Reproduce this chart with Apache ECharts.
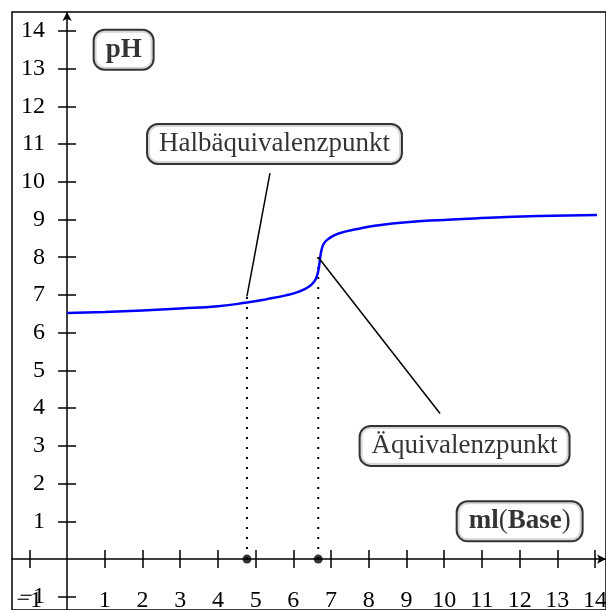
<!DOCTYPE html>
<html>
<head>
<meta charset="utf-8">
<script src="https://cdn.jsdelivr.net/npm/echarts@6/dist/echarts.min.js"></script>
<style>
    html, body { margin: 0; padding: 0; background: #fff; }
    #chart { width: 606px; height: 610px; }
</style>
</head>
<body>
<div id="chart"></div>
<script>
// titration curve
const volumes = [0, 1, 2, 3, 4, 4.77, 5.3, 5.8, 6.15, 6.4, 6.55, 6.63, 6.68, 6.71, 6.75, 6.82, 6.95, 7.2, 7.7, 8.2, 9.0, 10.0, 10.8, 12.5, 14.05];
const phValues = [6.52, 6.55, 6.59, 6.64, 6.70, 6.80, 6.89, 6.99, 7.09, 7.21, 7.35, 7.52, 7.75, 7.98, 8.20, 8.38, 8.50, 8.63, 8.75, 8.84, 8.93, 8.99, 9.03, 9.09, 9.12];

// ticks / labels
const xTickValues = [-1, 1, 2, 3, 4, 5, 6, 7, 8, 9, 10, 11, 12, 13, 14];
const yTickValues = [-1, 1, 2, 3, 4, 5, 6, 7, 8, 9, 10, 11, 12, 13, 14];

// half equivalence and equivalence point (ml)
const markerVolumes = [4.77, 6.66];
const guideTops = [6.96, 8.0];

// pointer lines: label end -> curve end
const pointerFrom = [[5.38, 10.23], [9.89, 3.86]];
const pointerTo = [[4.77, 6.96], [6.66, 8.0]];

// boxed texts
const boxTexts = ['{b|pH}', 'Halbäquivalenzpunkt', 'Äquivalenzpunkt', '{b|ml}({b|Base})'];
const boxAnchors = [[1.5, 13.5], [5.5, 11.0], [10.54, 3.0], [12.0, 1.0]];

const chartDom = document.getElementById('chart');
const myChart = echarts.init(chartDom);

const font = 'Liberation Serif';
const fmt = v => (v < 0 ? '\u2212' + Math.abs(v) : String(v));

// grid
let grid = {
    left: 12,
    top: 12,
    right: 0,
    bottom: 0,
    show: true,
    borderColor: '#000',
    borderWidth: 1.5,
    outerBoundsMode: 'none'
};

let axisLineStyle = { color: '#000', width: 1.5 };

// xAxis: one carries labels + ticks downwards, second one ticks upwards
let xAxis = [{
    type: 'value',
    min: -1.46,
    max: 14.29,
    position: 'bottom',
    axisLine: {
        onZero: true,
        onZeroAxisIndex: 0,
        symbol: ['none', 'arrow'],
        symbolSize: [7, 9],
        lineStyle: axisLineStyle
    },
    axisTick: { customValues: xTickValues, length: 9, lineStyle: axisLineStyle },
    axisLabel: {
        customValues: xTickValues,
        formatter: fmt,
        margin: -21,
        color: '#000',
        fontFamily: font,
        fontSize: 24
    },
    splitLine: { show: false }
}, {
    type: 'value',
    min: -1.46,
    max: 14.29,
    position: 'top',
    axisLine: { show: false, onZero: true, onZeroAxisIndex: 0 },
    axisTick: { customValues: xTickValues, length: 9, lineStyle: axisLineStyle },
    axisLabel: { show: false },
    splitLine: { show: false }
}];

// yAxis
let yAxis = [{
    type: 'value',
    min: -1.35,
    max: 14.5,
    position: 'left',
    axisLine: {
        onZero: true,
        onZeroAxisIndex: 0,
        symbol: ['none', 'arrow'],
        symbolSize: [7, 9],
        lineStyle: axisLineStyle
    },
    axisTick: { customValues: yTickValues, length: 9, lineStyle: axisLineStyle },
    axisLabel: {
        customValues: yTickValues,
        formatter: fmt,
        margin: -33,
        color: '#000',
        fontFamily: font,
        fontSize: 24
    },
    splitLine: { show: false }
}, {
    type: 'value',
    min: -1.35,
    max: 14.5,
    position: 'right',
    axisLine: { show: false, onZero: true, onZeroAxisIndex: 0 },
    axisTick: { customValues: yTickValues, length: 9, lineStyle: axisLineStyle },
    axisLabel: { show: false },
    splitLine: { show: false }
}];

// series
let series = [];

// dotted guides from the x axis up
markerVolumes.forEach((v, i) => {
    series.push({
        type: 'line',
        silent: true,
        symbol: 'none',
        data: [[v, 0], [v, guideTops[i]]],
        lineStyle: { color: '#000', width: 2, type: [2, 8] },
        z: 2
    });
});

// curve
series.push({
    name: 'pH',
    type: 'line',
    data: volumes.map((v, i) => [v, phValues[i]]),
    showSymbol: false,
    smooth: 0.5,
    lineStyle: { color: '#0000ff', width: 2.5 },
    z: 3
});

// pointer lines
pointerFrom.forEach((p, i) => {
    series.push({
        type: 'line',
        silent: true,
        symbol: 'none',
        data: [p, pointerTo[i]],
        lineStyle: { color: '#000', width: 1.5 },
        z: 4
    });
});

// dots on the x axis
series.push({
    type: 'scatter',
    data: markerVolumes.map(v => [v, 0]),
    symbol: 'circle',
    symbolSize: 9,
    itemStyle: { color: '#000' },
    z: 5
});

// boxed texts
series.push({
    type: 'scatter',
    symbolSize: 1,
    itemStyle: { color: 'rgba(0,0,0,0)' },
    data: boxTexts.map((t, i) => ({ name: t, value: boxAnchors[i] })),
    label: {
        show: true,
        position: 'inside',
        formatter: p => p.name,
        color: '#000',
        textBorderWidth: 0,
        fontFamily: font,
        fontSize: 27,
        lineHeight: 30,
        backgroundColor: '#fff',
        borderColor: '#000',
        borderWidth: 2,
        borderRadius: 10,
        padding: [4, 11, 4, 11],
        rich: {
            b: { color: '#000', fontFamily: font, fontSize: 27, fontWeight: 'bold', lineHeight: 30 }
        }
    },
    z: 6
});

const option = {
    animation: false,
    grid,
    xAxis,
    yAxis,
    series
};

option && myChart.setOption(option);
</script>
</body>
</html>
